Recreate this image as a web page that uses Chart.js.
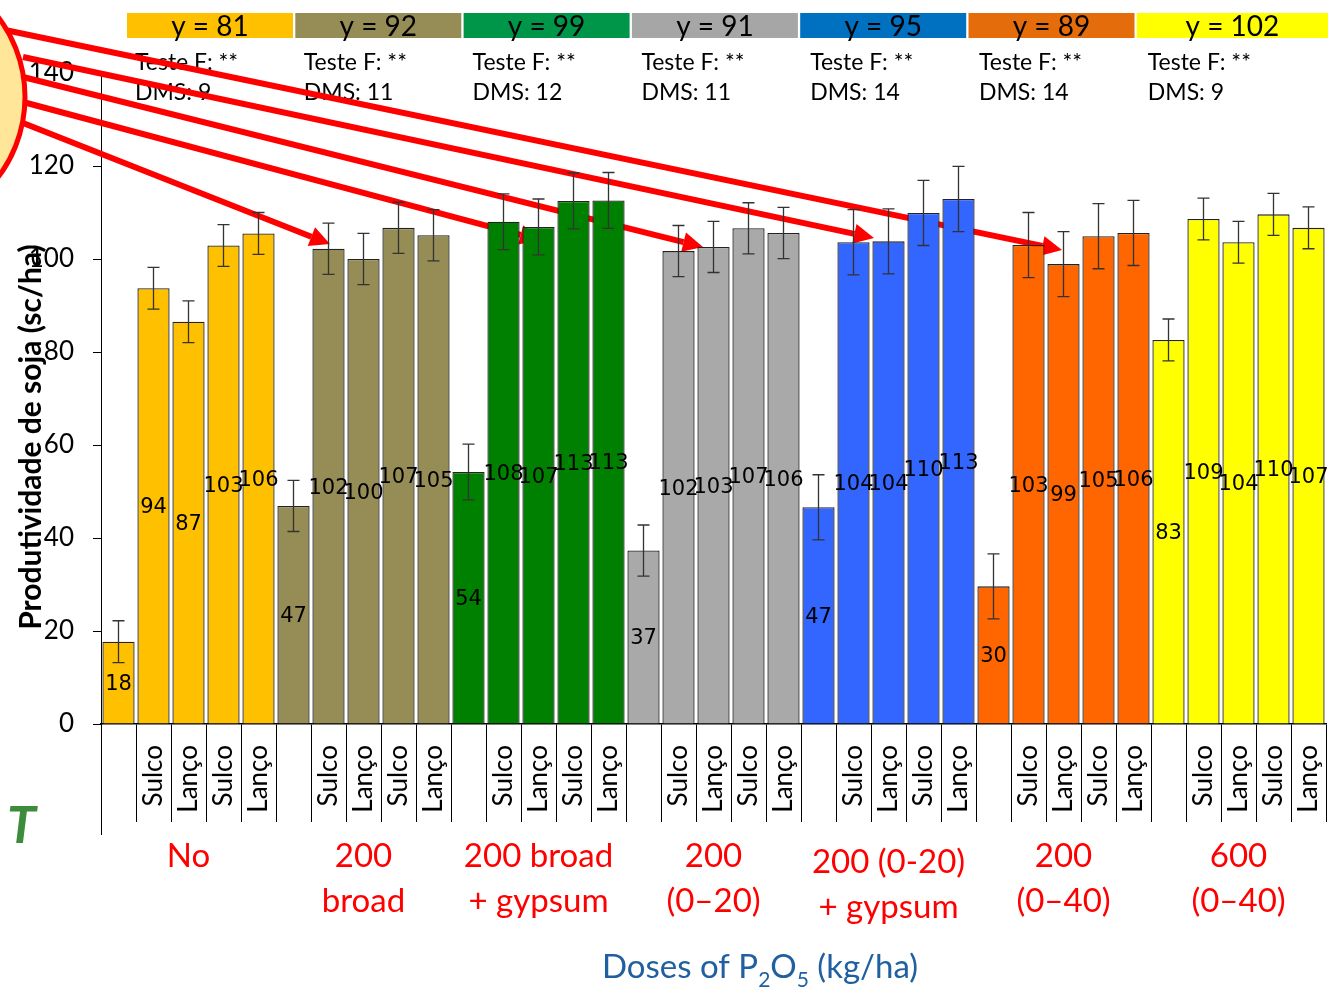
<!DOCTYPE html>
<html>
<head>
<meta charset="utf-8">
<script src="https://cdn.jsdelivr.net/npm/chart.js@4.4.0/dist/chart.umd.min.js"></script>
<style>
  html, body { margin: 0; padding: 0; background: #fff; }
  canvas { display: block; }
</style>
</head>
<body>
<canvas id="chart" width="1331" height="988"></canvas>
<script>
// dados
const groupNames = [["No"], ["200", "broad"], ["200 broad", "+ gypsum"], ["200", "(0–20)"],
    ["200 (0-20)", "+ gypsum"], ["200", "(0–40)"], ["600", "(0–40)"]];
const categories = [
    "", "Sulco", "Lanço", "Sulco", "Lanço",
    "", "Sulco", "Lanço", "Sulco", "Lanço",
    "", "Sulco", "Lanço", "Sulco", "Lanço",
    "", "Sulco", "Lanço", "Sulco", "Lanço",
    "", "Sulco", "Lanço", "Sulco", "Lanço",
    "", "Sulco", "Lanço", "Sulco", "Lanço",
    "", "Sulco", "Lanço", "Sulco", "Lanço",
];
const yields = [
    17.7, 93.7, 86.5, 102.9, 105.5,
    46.9, 102.2, 100.0, 106.7, 105.1,
    54.2, 108.0, 106.9, 112.5, 112.6,
    37.3, 101.7, 102.6, 106.6, 105.6,
    46.6, 103.6, 103.8, 109.9, 112.9,
    29.6, 103.0, 98.9, 104.9, 105.6,
    82.6, 108.6, 103.6, 109.6, 106.7,
];
const meanY = [81, 92, 99, 91, 95, 89, 102];
const fTest = ["**", "**", "**", "**", "**", "**", "**"];
const dms = [9, 11, 12, 11, 14, 14, 9];
const yTicks = [0, 20, 40, 60, 80, 100, 120, 140];

const barColors = ["#FFC000", "#968C55", "#008000", "#A9A9A9", "#3366FF", "#FF6600", "#FFFF00"];
const boxColors = ["#FFC000", "#968C55", "#00964A", "#A6A6A6", "#0070C0", "#E46C0A", "#FFFF00"];

const perGroup = 5;
const groupOf = (i) => Math.floor(i / perGroup);

// setas vermelhas (anotação do slide)
const arrows = [
    [5, 30, 1062, 250],
    [23, 57, 874, 238],
    [23, 77, 703, 247],
    [23, 102, 540, 240],
    [23, 123, 330, 244],
];

function drawArrow(ctx, x1, y1, x2, y2) {
    const ang = Math.atan2(y2 - y1, x2 - x1);
    const len = 20, hw = 10;
    const bx = x2 - len * Math.cos(ang), by = y2 - len * Math.sin(ang);
    ctx.strokeStyle = "#FF0000";
    ctx.lineWidth = 6;
    ctx.beginPath();
    ctx.moveTo(x1, y1);
    ctx.lineTo(bx, by);
    ctx.stroke();
    ctx.fillStyle = "#FF0000";
    ctx.beginPath();
    ctx.moveTo(x2, y2);
    ctx.lineTo(bx + hw * Math.sin(ang), by - hw * Math.cos(ang));
    ctx.lineTo(bx - hw * Math.sin(ang), by + hw * Math.cos(ang));
    ctx.closePath();
    ctx.fill();
}

const decor = {
    id: "decor",
    beforeDatasetsDraw(chart) {
        const ctx = chart.ctx;
        ctx.save();
        // caixas do topo
        for (let g = 0; g < meanY.length; g++) {
            const left = 127 + g * 168.3;
            const right = g === meanY.length - 1 ? 1328 : left + 166;
            ctx.fillStyle = boxColors[g];
            ctx.fillRect(left, 13, right - left, 25);
            ctx.fillStyle = "#000";
            ctx.font = "28px Lato";
            ctx.textAlign = "center";
            ctx.textBaseline = "middle";
            ctx.fillText("y = " + meanY[g], (left + right) / 2, 27);
            ctx.font = "23px Lato";
            ctx.textAlign = "left";
            const tx = 135 + g * 168.8;
            ctx.fillText("Teste F: " + fTest[g], tx, 63);
            ctx.fillText("DMS: " + dms[g], tx, 93);
        }
        arrows.forEach((a) => drawArrow(ctx, ...a));
        // círculo
        ctx.beginPath();
        ctx.arc(-108, 97, 133, 0, Math.PI * 2);
        ctx.fillStyle = "#FFE699";
        ctx.fill();
        ctx.lineWidth = 5;
        ctx.strokeStyle = "#FF0000";
        ctx.stroke();
        ctx.restore();
    },
    afterDatasetsDraw(chart) {
        const ctx = chart.ctx;
        const xs = chart.scales.x, ys = chart.scales.y;
        const meta = chart.getDatasetMeta(0);
        ctx.save();
        // barras de erro (± DMS/2)
        ctx.strokeStyle = "#333";
        ctx.lineWidth = 1.3;
        meta.data.forEach((bar, i) => {
            const e = dms[groupOf(i)] / 2;
            const top = ys.getPixelForValue(yields[i] + e);
            const bot = ys.getPixelForValue(yields[i] - e);
            ctx.beginPath();
            ctx.moveTo(bar.x, top); ctx.lineTo(bar.x, bot);
            ctx.moveTo(bar.x - 6, top); ctx.lineTo(bar.x + 6, top);
            ctx.moveTo(bar.x - 6, bot); ctx.lineTo(bar.x + 6, bot);
            ctx.stroke();
        });
        // rótulos de valor
        ctx.fillStyle = "#000";
        ctx.font = "21px 'DejaVu Sans'";
        ctx.textAlign = "center";
        ctx.textBaseline = "middle";
        meta.data.forEach((bar, i) => {
            ctx.fillText(String(Math.round(yields[i])), bar.x, (bar.y + bar.base) / 2 + 2);
        });
        // linha longa no início do eixo
        ctx.strokeStyle = "#000";
        ctx.lineWidth = 1;
        ctx.beginPath();
        ctx.moveTo(xs.left + 0.5, xs.top);
        ctx.lineTo(xs.left + 0.5, xs.top + 111);
        ctx.stroke();
        // nomes dos grupos
        ctx.fillStyle = "#FF0000";
        ctx.font = "33px Lato";
        groupNames.forEach((lines, g) => {
            const cx = (xs.getPixelForValue(g * perGroup) + xs.getPixelForValue(g * perGroup + perGroup - 1)) / 2;
            const dy = g === 4 ? 6 : 0;
            lines.forEach((t, k) => ctx.fillText(t, cx, 856 + dy + k * 45));
        });
        // título do eixo x com subscritos
        ctx.fillStyle = "#2060A0";
        const parts = [["Doses of P", 0], ["2", 1], ["O", 0], ["5", 1], [" (kg/ha)", 0]];
        let w = 0;
        parts.forEach(([t, s]) => {
            ctx.font = s ? "21px Lato" : "33px Lato";
            w += ctx.measureText(t).width;
        });
        let x = 760 - w / 2;
        ctx.textAlign = "left";
        ctx.textBaseline = "alphabetic";
        parts.forEach(([t, s]) => {
            ctx.font = s ? "21px Lato" : "33px Lato";
            ctx.fillText(t, x, s ? 987 : 978);
            x += ctx.measureText(t).width;
        });
        // título do eixo y
        ctx.translate(31, 437);
        ctx.rotate(-Math.PI / 2);
        ctx.fillStyle = "#000";
        ctx.font = "bold 30px Lato";
        ctx.textAlign = "center";
        ctx.textBaseline = "middle";
        ctx.fillText("Produtividade de soja (sc/ha)", 0, 0);
        ctx.restore();
        // pedaço do logo
        ctx.save();
        ctx.fillStyle = "#3D8B3D";
        ctx.font = "italic bold 52px Lato";
        ctx.textAlign = "right";
        ctx.fillText("T", 36, 843);
        ctx.restore();
    },
};

Chart.defaults.font.family = "Lato";
Chart.defaults.color = "#000";

const ctx = document.getElementById("chart").getContext("2d");
const chart = new Chart(ctx, {
    type: "bar",
    data: {
        labels: categories,
        datasets: [
            {
                data: yields,
                backgroundColor: yields.map((v, i) => barColors[groupOf(i)]),
                borderColor: "#222",
                borderWidth: 1.3,
                barPercentage: 0.92,
                categoryPercentage: 1,
            },
        ],
    },
    options: {
        responsive: false,
        animation: false,
        devicePixelRatio: 1,
        layout: { padding: { left: 0, right: 5, top: 73, bottom: 0 } },
        plugins: { legend: { display: false }, tooltip: { enabled: false } },
        scales: {
            x: {
                border: { color: "#000", width: 1.5 },
                grid: { offset: true, drawOnChartArea: false, tickLength: 98, color: "#000" },
                ticks: { autoSkip: false, minRotation: 90, maxRotation: 90, padding: -77, font: { size: 26 } },
                afterFit: (s) => { s.height = 264; s.paddingLeft = 0; s.paddingRight = 0; },
            },
            y: {
                min: 0,
                max: 140,
                border: { color: "#000", width: 1 },
                grid: { drawOnChartArea: false, tickLength: 8, color: "#000" },
                afterBuildTicks: (s) => { s.ticks = yTicks.map((v) => ({ value: v })); },
                ticks: { padding: 19, font: { size: 26 } },
                afterFit: (s) => { s.width = 101; s.paddingTop = 0; s.paddingBottom = 0; },
            },
        },
    },
    plugins: [decor],
});
</script>
</body>
</html>
